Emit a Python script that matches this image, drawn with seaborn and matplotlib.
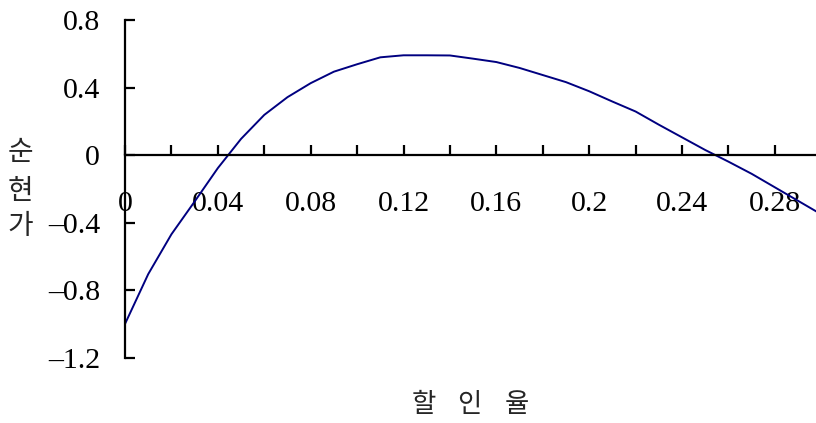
import matplotlib
matplotlib.use("Agg")
import matplotlib.pyplot as plt
import seaborn as sns
import pandas as pd
from matplotlib.ticker import MultipleLocator, FuncFormatter

# Discount rate (할인율) and net present value (순현가)
rates = [0.00, 0.01, 0.02, 0.03, 0.04, 0.05, 0.06, 0.07, 0.08, 0.09, 0.10,
         0.11, 0.12, 0.13, 0.14, 0.15, 0.16, 0.17, 0.18, 0.19, 0.20,
         0.21, 0.22, 0.23, 0.24, 0.25, 0.26, 0.27, 0.28, 0.29, 0.30]
npv = [-1.000, -0.705, -0.469, -0.275, -0.077, 0.096, 0.238, 0.343, 0.426, 0.494, 0.538,
       0.579, 0.591, 0.591, 0.590, 0.571, 0.551, 0.516, 0.474, 0.432, 0.378,
       0.317, 0.258, 0.180, 0.105, 0.030, -0.039, -0.111, -0.191, -0.271, -0.351]
y_ticks = [-1.2, -0.8, -0.4, 0.0, 0.4, 0.8]

x_title = ["할", "인", "율"]
y_title = ["순", "현", "가"]

sns.set_style("white")
plt.rcParams["font.family"] = ["Liberation Serif", "DejaVu Serif"]
plt.rcParams["axes.unicode_minus"] = False


def fmt(v, pos=None):
    if abs(v) < 1e-9:
        return "0"
    s = f"{v:g}"
    return s.replace("-", "\u2013")


df = pd.DataFrame({"rate": rates, "npv": npv})

fig = plt.figure(figsize=(8.16, 4.23), dpi=100)
ax = fig.add_axes([0.1532, 0.1544, 0.8533, 0.7983])

sns.lineplot(data=df, x="rate", y="npv", ax=ax, color="#000080", linewidth=1.4)

ax.set_xlim(0, 0.30)
ax.set_ylim(-1.2, 0.8)

# axis lines: y-axis at rate 0, x-axis crossing at NPV 0
for s in ("top", "right"):
    ax.spines[s].set_visible(False)
ax.spines["bottom"].set_position(("data", 0))
for s in ("left", "bottom"):
    ax.spines[s].set_color("black")
    ax.spines[s].set_linewidth(1.6)

ax.set_yticks(y_ticks)
ax.yaxis.set_major_formatter(FuncFormatter(fmt))
ax.xaxis.set_major_locator(MultipleLocator(0.04))
ax.xaxis.set_minor_locator(MultipleLocator(0.02))
ax.xaxis.set_major_formatter(FuncFormatter(fmt))

ax.tick_params(axis="y", direction="in", length=7, width=1.6, colors="black",
               labelsize=21.5, pad=18, left=True)
ax.tick_params(axis="x", which="both", direction="in", length=7, width=1.6,
               colors="black", bottom=True)
ax.tick_params(axis="x", which="major", labelsize=21.5, pad=26)

ax.set_xlabel("")
ax.set_ylabel("")

kfont = ["Noto Sans CJK KR", "DejaVu Sans"]
for ch, xp in zip(x_title, [424, 469, 517]):
    fig.text(xp / 816, 1 - 404 / 423, ch, ha="center", va="center",
             fontsize=19, family=kfont)
for ch, yp in zip(y_title, [152, 191, 226]):
    fig.text(20 / 816, 1 - yp / 423, ch, ha="center", va="center",
             fontsize=20, family=kfont)

fig.savefig("out.png", dpi=100)
